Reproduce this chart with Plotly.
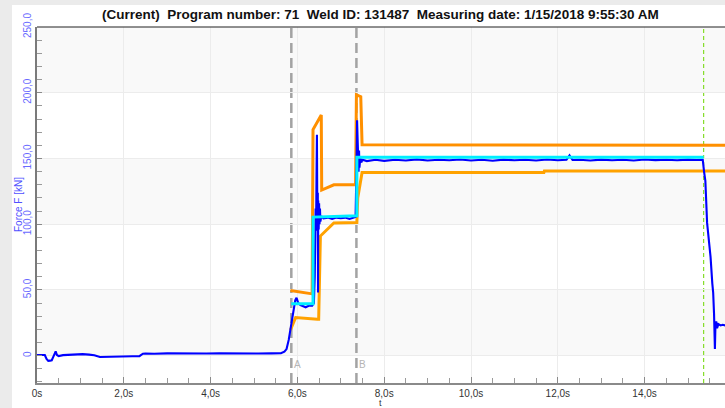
import plotly.graph_objects as go

# ---------------- data ----------------
blue_t = [0, 0.18, 0.22, 0.26, 0.30, 0.34, 0.38, 0.41, 0.43, 0.46, 0.50, 0.60, 0.75, 0.90, 1.05,
          1.20, 1.32, 1.45, 1.60, 1.80, 2.00, 2.20, 2.36, 2.44, 2.50, 2.70, 3.00, 3.30, 3.60,
          3.90, 4.20, 4.50, 4.80, 5.10, 5.40, 5.62, 5.70, 5.75, 5.80, 5.85, 5.90, 5.95, 5.98,
          6.02, 6.07, 6.13, 6.19, 6.26, 6.34, 6.38, 6.40, 6.42, 6.43, 6.44, 6.45, 6.46, 6.47,
          6.475, 6.48, 6.49, 6.50, 6.51, 6.52, 6.53, 6.55, 6.60, 6.70, 6.80, 6.90, 7.00,
          7.10, 7.20, 7.30, 7.34, 7.36, 7.375, 7.39, 7.41, 7.42, 7.43, 7.45, 7.47, 7.50, 7.60,
          7.80, 8.00, 8.25, 8.50, 8.75, 9.00, 9.25, 9.50, 9.75, 10.00, 10.25, 10.50, 10.75,
          11.00, 11.25, 11.50, 11.75, 12.00, 12.20, 12.27, 12.34, 12.50, 12.75, 13.00, 13.25,
          13.50, 13.75, 14.00, 14.25, 14.50, 14.75, 15.00, 15.20, 15.34, 15.37, 15.40, 15.44,
          15.48, 15.52, 15.56, 15.58, 15.60, 15.62, 15.63, 15.65, 15.67, 15.70, 15.75, 15.80,
          15.86]
blue_v = [0.5, 0.5, -2.5, -4.0, -3.8, -3.5, -0.5, 2.0, 3.2, 0.5, -0.3, 0.4, 0.6, 0.8, 1.2,
          0.8, 0.3, -1.0, -0.8, -0.6, -0.4, -0.5, -0.4, 1.5, 1.6, 1.4, 1.7, 1.5, 1.8,
          1.6, 1.7, 1.5, 1.8, 1.6, 1.7, 1.8, 3.0, 5.0, 12.0, 22.0, 32.0, 42.0, 44.0,
          40.0, 38.5, 37.5, 36.8, 38.0, 38.0, 40.0, 60.0, 112.0, 95.0, 135.0, 168.0, 100.0, 124.0,
          48.0, 118.0, 96.0, 116.0, 100.0, 112.0, 102.0, 106.0, 104.5, 105.0, 104.0, 105.0, 104.5,
          105.0, 104.0, 105.0, 105.5, 140.0, 179.0, 162.0, 140.0, 156.0, 143.0, 151.0, 147.0, 149.0, 148.0,
          149.0, 148.2, 149.0, 148.5, 149.3, 148.4, 149.0, 148.6, 149.2, 148.5, 149.0, 148.3, 149.1,
          148.6, 149.0, 148.5, 149.2, 148.6, 149.0, 152.3, 148.8, 149.0, 148.4, 149.1, 148.6,
          149.0, 148.5, 149.2, 148.7, 149.0, 148.6, 149.1, 148.8, 149.0, 140.0, 133.0, 101.0,
          88.0, 75.0, 55.0, 48.0, 32.0, 5.0, 20.0, 26.0, 21.0, 24.0, 23.0, 23.5,
          23.0]

cyan_t = [5.86, 6.36, 6.36, 7.37, 7.37, 15.36]
cyan_v = [39.4, 39.4, 105.4, 106.4, 151.0, 151.0]

upper_t = [5.84, 6.31, 6.34, 6.36, 6.55, 6.56, 6.84, 7.34, 7.36, 7.46, 7.49, 15.86]
upper_v = [49.5, 47.0, 47.0, 172.0, 183.0, 126.0, 130.0, 130.0, 198.5, 197.0, 160.5, 160.0]

lower_t = [5.84, 5.96, 6.46, 6.49, 6.53, 6.84, 7.37, 7.39, 7.49, 11.68, 11.69, 15.86]
lower_v = [19.5, 29.0, 27.7, 27.7, 91.0, 101.0, 101.3, 120.0, 139.4, 139.4, 140.4, 140.4]

marker_t = [5.86, 7.36]
marker_labels = ["A", "B"]
end_t = 15.36

x_ticks = [0, 2, 4, 6, 8, 10, 12, 14]
x_text = ["0s", "2,0s", "4,0s", "6,0s", "8,0s", "10,0s", "12,0s", "14,0s"]
y_ticks = [0, 50, 100, 150, 200, 250]
y_text = ["0", "50,0", "100,0", "150,0", "200,0", "250,0"]
bands = [(0, 50), (100, 150), (200, 250)]

title = ("(Current)\u00a0 Program number: 71\u00a0 Weld ID: 131487\u00a0 "
         "Measuring date: 1/15/2018 9:55:30 AM")

# ---------------- figure ----------------
W, H = 725, 408
L, R, T, B = 37, 0, 27, 25
pw, ph = W - L - R, H - T - B
X_MAX = pw / 43.4
Y_MIN, Y_MAX = -20.8, 250

fig = go.Figure()
fig.add_trace(go.Scatter(x=upper_t, y=upper_v, mode="lines",
                         line=dict(color="#ff9000", width=3), hoverinfo="skip"))
fig.add_trace(go.Scatter(x=lower_t, y=lower_v, mode="lines",
                         line=dict(color="#ffa200", width=3), hoverinfo="skip"))
fig.add_trace(go.Scatter(x=blue_t, y=blue_v, mode="lines",
                         line=dict(color="#0000ff", width=2.1), hoverinfo="skip"))
fig.add_trace(go.Scatter(x=cyan_t, y=cyan_v, mode="lines",
                         line=dict(color="#00eeff", width=3), hoverinfo="skip"))

shapes = []
for b0, b1 in bands:
    shapes.append(dict(type="rect", xref="paper", yref="y", x0=0, x1=1, y0=b0, y1=b1,
                       fillcolor="#f9f9f9", line=dict(width=0), layer="below"))
for t in marker_t:
    shapes.append(dict(type="line", xref="x", yref="paper", x0=t, x1=t, y0=0, y1=1,
                       line=dict(color="#a3a3a3", width=2.5, dash="10px,5px"), layer="between"))
shapes.append(dict(type="line", xref="x", yref="paper", x0=end_t, x1=end_t, y0=0, y1=1,
                   line=dict(color="#86dd2a", width=1.2, dash="4px,3px"), layer="between"))
# page decorations: left grey strip, top grey strip, top border line
shapes.append(dict(type="rect", xref="paper", yref="paper",
                   x0=-L / pw, x1=(12 - L) / pw, y0=-B / ph, y1=1 + T / ph,
                   fillcolor="#ebebeb", line=dict(width=0), layer="below"))
shapes.append(dict(type="rect", xref="paper", yref="paper",
                   x0=-L / pw, x1=1, y0=1 + (T - 5) / ph, y1=1 + T / ph,
                   fillcolor="#ebebeb", line=dict(width=0), layer="below"))
shapes.append(dict(type="line", xref="paper", yref="paper", x0=0, x1=1, y0=1, y1=1,
                   line=dict(color="#222222", width=1.2), layer="above"))

annotations = []
for t, lab in zip(marker_t, marker_labels):
    annotations.append(dict(x=t, xref="x", y=(383 - 372) / ph, yref="paper",
                            text=lab, showarrow=False, xanchor="left", xshift=1,
                            font=dict(family="Liberation Sans", size=10, color="#b5b5b5")))
annotations.append(dict(x=(18 - L) / pw, xref="paper", y=(383 - 205) / ph, yref="paper",
                        text="Force F [kN]", textangle=-90, showarrow=False,
                        xanchor="center", yanchor="middle",
                        font=dict(family="Liberation Sans", size=10, color="#5050ff")))
annotations.append(dict(x=(380 - L) / pw, xref="paper", y=(383 - 403) / ph, yref="paper",
                        text="t", showarrow=False, xanchor="center", yanchor="middle",
                        font=dict(family="Liberation Sans", size=9, color="#333333")))
annotations.append(dict(x=(380 - L) / pw, xref="paper", y=1 + (T - 15) / ph, yref="paper",
                        text="<b>" + title + "</b>", showarrow=False,
                        xanchor="center", yanchor="middle",
                        font=dict(family="Liberation Sans", size=13.5, color="#111111")))

fig.update_layout(
    width=W, height=H,
    margin=dict(l=L, r=R, t=T, b=B),
    paper_bgcolor="white", plot_bgcolor="white",
    showlegend=False,
    shapes=shapes, annotations=annotations,
    xaxis=dict(range=[0, X_MAX], tickvals=x_ticks, ticktext=x_text,
               showgrid=True, gridcolor="#ececec", gridwidth=1, zeroline=False,
               showline=True, linecolor="#8a8a8a", linewidth=2,
               ticks="inside", ticklen=6, tickcolor="#8a8a8a",
               minor=dict(dtick=0.5, tick0=0, ticks="inside", ticklen=5,
                          tickcolor="#9a9a9a", showgrid=False),
               tickfont=dict(family="Liberation Sans", size=10, color="#333333")),
    yaxis=dict(range=[Y_MIN, Y_MAX], tickvals=y_ticks, ticktext=y_text,
               showgrid=True, gridcolor="#ececec", gridwidth=1, zeroline=False,
               showline=True, linecolor="#7a7a7a", linewidth=1.5,
               ticks="inside", ticklen=5, tickcolor="#8a8a8a", tickangle=-90,
               minor=dict(dtick=10, tick0=0, ticks="inside", ticklen=5,
                          tickcolor="#9a9a9a", showgrid=False),
               tickfont=dict(family="Liberation Sans", size=10, color="#6a6aff")),
)

fig.write_html("out.html")
